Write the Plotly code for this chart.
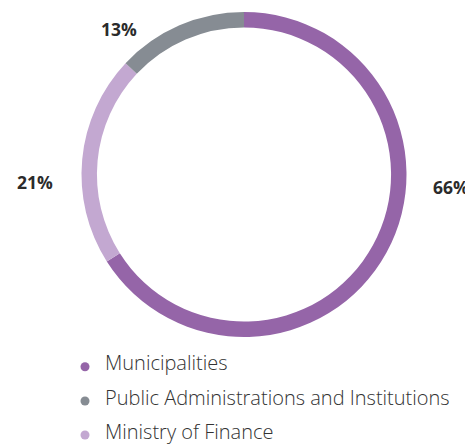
import plotly.graph_objects as go

# Data
slice_labels = ["Municipalities", "Ministry of Finance", "Public Administrations and Institutions"]
slice_values = [66, 21, 13]
slice_colors = ["#9565a8", "#c3a8d1", "#868c93"]

legend_labels = ["Municipalities", "Public Administrations and Institutions", "Ministry of Finance"]

# The page body adds an 8px margin, so the figure is drawn 8px smaller
OFF = 8
W, H = 473 - OFF, 444 - OFF


def px(x):
    return (x - OFF) / W


def py(y):
    return 1 - (y - OFF) / H


fig = go.Figure()
fig.add_trace(go.Pie(
    labels=slice_labels,
    values=slice_values,
    marker=dict(colors=slice_colors, line=dict(width=0)),
    hole=0.905,
    sort=False,
    direction="clockwise",
    rotation=0,
    textinfo="none",
    hoverinfo="label+percent",
    showlegend=False,
    domain=dict(x=[px(81), px(407)], y=[py(337), py(12)]),
))

color_of = dict(zip(slice_labels, slice_colors))

# Percentage labels
label_pos = {
    "Municipalities": (451, 187),
    "Ministry of Finance": (34.5, 182),
    "Public Administrations and Institutions": (118.5, 29),
}
for lab, val in zip(slice_labels, slice_values):
    x, y = label_pos[lab]
    fig.add_annotation(
        x=px(x), y=py(y), xref="paper", yref="paper",
        text=f"{val}%", showarrow=False, xanchor="center", yanchor="middle",
        font=dict(family="Open Sans", size=17.5, color="#2b2b2b", weight="bold"),
    )

# Legend (drawn manually)
row_y = [362.5, 397, 431.5]
dot_y = [366.7, 401, 435]
shapes = []
for lab, ry, dy in zip(legend_labels, row_y, dot_y):
    shapes.append(dict(
        type="circle", xref="paper", yref="paper",
        xsizemode="pixel", ysizemode="pixel",
        xanchor=px(85), yanchor=py(dy),
        x0=-4.5, x1=4.5, y0=-4.5, y1=4.5,
        fillcolor=color_of[lab], line=dict(width=0),
    ))
    fig.add_annotation(
        x=px(103), y=py(ry), xref="paper", yref="paper",
        text=lab, showarrow=False, xanchor="left", yanchor="middle",
        font=dict(family="Open Sans", size=20, color="#333333", weight=300),
    )

fig.update_layout(
    width=W, height=H,
    margin=dict(l=0, r=0, t=0, b=0),
    paper_bgcolor="white", plot_bgcolor="white",
    showlegend=False,
    shapes=shapes,
)

fig.write_html("out.html")
